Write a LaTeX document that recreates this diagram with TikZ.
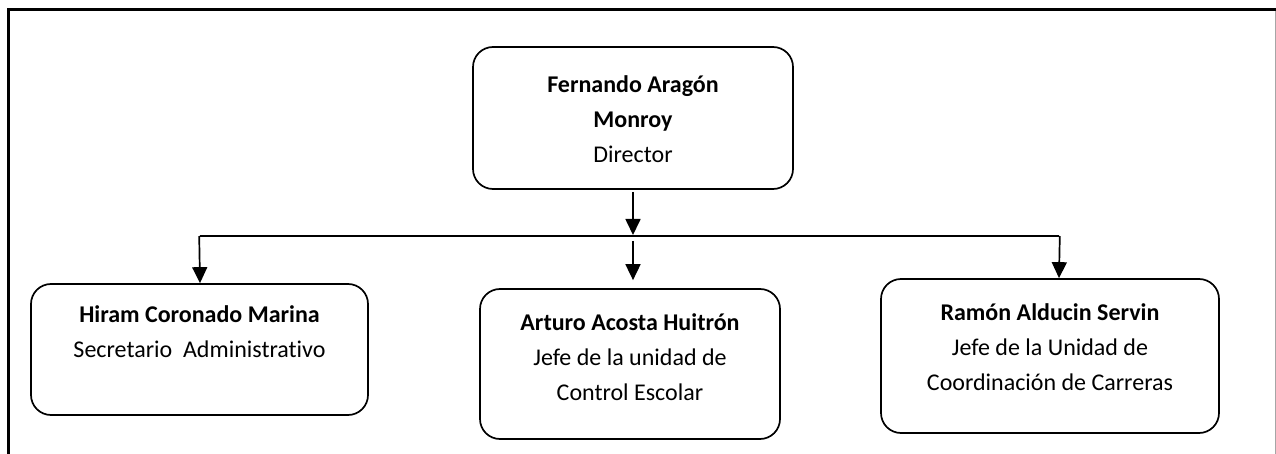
\documentclass[tikz,border=0pt]{standalone}
\usepackage{fontspec}
\setmainfont{Carlito}[Ligatures={NoCommon,NoContextual}]
\usetikzlibrary{arrows.meta}
\begin{document}
\begin{tikzpicture}[x=1pt,y=-1pt,
  box/.style={draw,line width=1.7pt,rounded corners=20pt,inner sep=0pt},
  txt/.style={align=center,inner sep=0pt,font=\fontsize{24}{35}\selectfont},
  conn/.style={line width=1.7pt},
  arr/.style={line width=1.7pt,-{Triangle[length=16pt,width=15pt]}}]
\useasboundingbox (0,0) rectangle (1276,454);
% frame
\draw[line width=2.2pt] (1276,9.5) -- (8.5,9.5) -- (8.5,455);
\draw[line width=1pt,black!35] (1275,11) -- (1275,455);
% boxes
\node[box,minimum width=320pt,minimum height=142pt] (dir) at (633,118) {};
\node[box,minimum width=337pt,minimum height=131pt] (sec) at (199.5,349.5) {};
\node[box,minimum width=300pt,minimum height=150pt] (ce) at (630,364) {};
\node[box,minimum width=338pt,minimum height=154pt] (cc) at (1050,356) {};
% texts
\node[txt] (tdir) at (633,119) {\textbf{Fernando Aragón}\\\textbf{Monroy}\\Director};
\node[txt] (tsec) at (199.5,331.5) {\textbf{Hiram Coronado Marina}\\Secretario\ \ Administrativo};
\node[txt] (tce) at (630,357) {\textbf{Arturo Acosta Huitrón}\\Jefe de la unidad de\\Control Escolar};
\node[txt] (tcc) at (1050,347) {\textbf{Ramón Alducin Servin}\\Jefe de la Unidad de\\Coordinación de Carreras};
% connectors
\coordinate (hub) at (633,236);
\coordinate (hl) at (200,236);
\coordinate (hr) at (1059,236);
\draw[arr] ([yshift=-2pt]dir.south) -- ([yshift=1pt]hub);
\draw[conn] (hl) -- (hr);
\draw[arr,shorten >=8pt] ([yshift=-5pt]hub) -- (hub |- ce.north);
\draw[arr] ([xshift=-0.8pt]hl) -- (hl |- sec.north);
\draw[arr] ([xshift=0.8pt]hr) -- (hr |- cc.north);
\end{tikzpicture}
\end{document}
